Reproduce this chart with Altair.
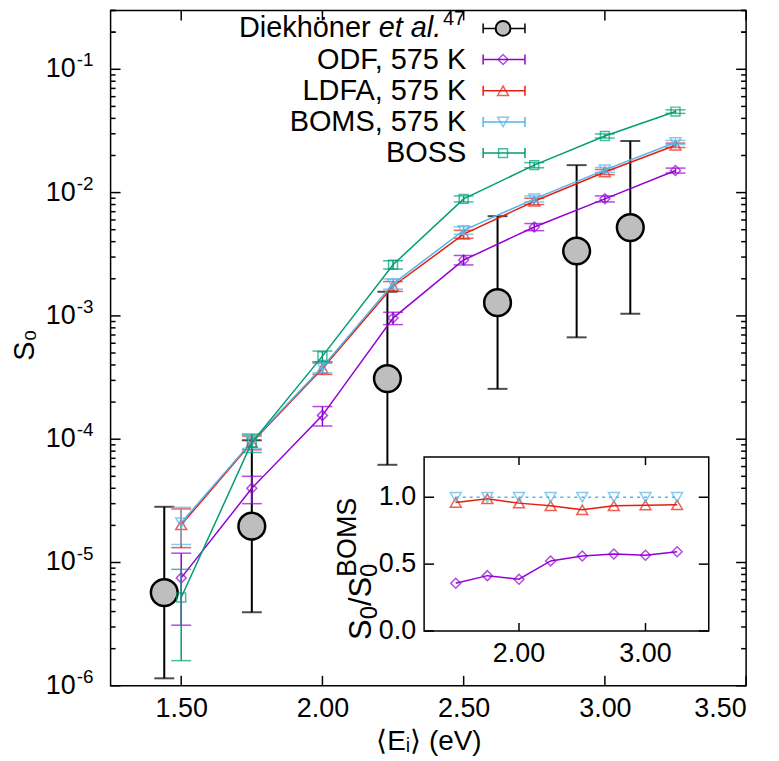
import altair as alt
import pandas as pd

# ---------------- data ----------------
E_model = [1.50, 1.75, 2.00, 2.25, 2.50, 2.75, 3.00, 3.25]
odf_s0 = [7.5e-6, 4.0e-5, 1.56e-4, 9.6e-4, 2.84e-3, 5.26e-3, 8.9e-3, 1.51e-2]
odf_err = [4.4e-6, 1.0e-5, 2.8e-5, 1.1e-4, 2.5e-4, 3.5e-4, 5.0e-4, 7.0e-4]
ldfa_s0 = [2.02e-5, 9.4e-5, 3.75e-4, 1.74e-3, 4.6e-3, 8.5e-3, 1.47e-2, 2.42e-2]
ldfa_err = [7.0e-6, 1.2e-5, 4.0e-5, 1.6e-4, 3.4e-4, 5.0e-4, 7.0e-4, 1.0e-3]
boms_s0 = [2.1e-5, 9.6e-5, 3.85e-4, 1.82e-3, 4.94e-3, 8.9e-3, 1.53e-2, 2.55e-2]
boms_err = [7.0e-6, 1.2e-5, 4.0e-5, 1.7e-4, 3.5e-4, 5.0e-4, 7.0e-4, 1.0e-3]
boss_s0 = [5.2e-6, 9.4e-5, 4.72e-4, 2.6e-3, 8.9e-3, 1.67e-2, 2.88e-2, 4.54e-2]
boss_err = [3.6e-6, 1.6e-5, 4.7e-5, 2.0e-4, 5.0e-4, 8.0e-4, 1.1e-3, 1.5e-3]

E_exp = [1.44, 1.75, 2.23, 2.62, 2.90, 3.09]
exp_s0 = [5.7e-6, 1.97e-5, 3.1e-4, 1.28e-3, 3.36e-3, 5.2e-3]
exp_lo = [1.15e-6, 3.95e-6, 6.2e-5, 2.56e-4, 6.7e-4, 1.04e-3]
exp_hi = [2.83e-5, 9.8e-5, 1.57e-3, 6.44e-3, 1.67e-2, 2.62e-2]

ratio_odf = [0.357, 0.414, 0.387, 0.524, 0.561, 0.576, 0.566, 0.593]
ratio_ldfa = [0.961, 0.988, 0.956, 0.936, 0.906, 0.936, 0.941, 0.943]
ratio_boms = [1.0, 1.0, 1.0, 1.0, 1.0, 1.0, 1.0, 1.0]

x_ticks = [1.50, 2.00, 2.50, 3.00, 3.50]
y_major = [1e-6, 1e-5, 1e-4, 1e-3, 1e-2, 1e-1]
y_exponents = ["-6", "-5", "-4", "-3", "-2", "-1"]
y_minor = [m * d for d in y_major for m in range(2, 10)] + [0.2, 0.3]
inset_x_ticks = [2.0, 3.0]
inset_x_labels = ["2.00", "3.00"]
inset_y_ticks = [0.0, 0.5, 1.0]
inset_y_labels = ["0.0", "0.5", "1.0"]

legend_names = ["ODF, 575 K", "LDFA, 575 K", "BOMS, 575 K", "BOSS"]

# ---------------- styling ----------------
FONT = "Liberation Sans"
W, H = 638, 678
C_ODF, C_LDFA, C_BOMS, C_BOSS = "#9400d3", "#e51e10", "#56b4e9", "#009e73"

xs = alt.Scale(domain=[1.25, 3.5], nice=False, zero=False)
ys = alt.Scale(type="log", domain=[1e-6, 0.3], nice=False)
x_axis = alt.Axis(values=x_ticks, format=".2f", ticks=False, domain=False, grid=False,
                  labelFontSize=27, labelFont=FONT, labelColor="black", labelPadding=10,
                  title="⟨Eᵢ⟩ (eV)", titleFont=FONT, titleFontSize=28,
                  titleFontWeight="normal", titleColor="black", titlePadding=6)


def X(field="E"):
    return alt.X(f"{field}:Q", scale=xs, axis=x_axis)


def Y(field):
    return alt.Y(f"{field}:Q", scale=ys, axis=None)


def model_layers(vals, errs, color, shape, size):
    df = pd.DataFrame({"E": E_model, "S": vals,
                       "lo": [v - e for v, e in zip(vals, errs)],
                       "hi": [v + e for v, e in zip(vals, errs)]})
    b = alt.Chart(df)
    return [
        b.mark_line(color=color, strokeWidth=1.5).encode(x=X(), y=Y("S")),
        b.mark_rule(color=color, strokeWidth=1.5).encode(x=X(), y=Y("lo"), y2="hi:Q"),
        b.mark_tick(color=color, orient="horizontal", size=20, thickness=1.5).encode(x=X(), y=Y("lo")),
        b.mark_tick(color=color, orient="horizontal", size=20, thickness=1.5).encode(x=X(), y=Y("hi")),
        b.mark_point(shape=shape, size=size, filled=False, color=color, strokeWidth=1.5).encode(x=X(), y=Y("S")),
    ]


exp_df = pd.DataFrame({"E": E_exp, "S": exp_s0, "lo": exp_lo, "hi": exp_hi})
eb = alt.Chart(exp_df)
exp_layers = [
    eb.mark_rule(color="black", strokeWidth=2).encode(x=X(), y=Y("lo"), y2="hi:Q"),
    eb.mark_tick(color="black", orient="horizontal", size=20, thickness=2).encode(x=X(), y=Y("lo")),
    eb.mark_tick(color="black", orient="horizontal", size=20, thickness=2).encode(x=X(), y=Y("hi")),
    eb.mark_point(shape="circle", size=720, filled=True, fill="#bebebe", fillOpacity=1,
                  stroke="black", strokeWidth=2.5, opacity=1).encode(x=X(), y=Y("S")),
]

# ---------------- inward ticks on all four sides ----------------
xt = alt.Chart(pd.DataFrame({"v": x_ticks}))
ymaj = alt.Chart(pd.DataFrame({"v": y_major}))
ymin = alt.Chart(pd.DataFrame({"v": y_minor}))
tick_layers = [
    xt.mark_rule(color="black", strokeWidth=1.5).encode(x=X("v"), y=alt.value(H), y2=alt.value(H - 10)),
    xt.mark_rule(color="black", strokeWidth=1.5).encode(x=X("v"), y=alt.value(0), y2=alt.value(10)),
    ymaj.mark_rule(color="black", strokeWidth=1.5).encode(y=Y("v"), x=alt.value(0), x2=alt.value(10)),
    ymaj.mark_rule(color="black", strokeWidth=1.5).encode(y=Y("v"), x=alt.value(W), x2=alt.value(W - 10)),
    ymin.mark_rule(color="black", strokeWidth=1.5).encode(y=Y("v"), x=alt.value(0), x2=alt.value(5)),
    ymin.mark_rule(color="black", strokeWidth=1.5).encode(y=Y("v"), x=alt.value(W), x2=alt.value(W - 5)),
]

# y tick labels 10^n
ylab_df = pd.DataFrame({"v": y_major, "ex": y_exponents})
yl = alt.Chart(ylab_df)
ylabel_layers = [
    yl.mark_text(align="right", baseline="middle", font=FONT, fontSize=27, color="black").encode(
        y=Y("v"), x=alt.value(-35), text=alt.value("10")),
    yl.mark_text(align="left", baseline="middle", font=FONT, fontSize=19, color="black", dy=-9).encode(
        y=Y("v"), x=alt.value(-34), text="ex:N"),
]

one = pd.DataFrame({"k": [0]})
ob = alt.Chart(one)
ytitle = ob.mark_text(angle=270, align="center", baseline="middle", font=FONT, fontSize=29,
                      color="black").encode(x=alt.value(-86), y=alt.value(336), text=alt.value("S₀"))

# ---------------- legend ----------------
LX_TEXT, LK0, LK1, LKM = 357, 374, 416, 394
LY0, LDY = 18, 31.3
LFS = 29


def legend_row(i, color, shape, size, filled, fill=None, sw=1.5):
    y = LY0 + i * LDY
    layers = [
        ob.mark_rule(color=color, strokeWidth=1.5).encode(x=alt.value(LK0), x2=alt.value(LK1), y=alt.value(y)),
        ob.mark_rule(color=color, strokeWidth=1.5).encode(x=alt.value(LK0), y=alt.value(y - 5), y2=alt.value(y + 5)),
        ob.mark_rule(color=color, strokeWidth=1.5).encode(x=alt.value(LK1), y=alt.value(y - 5), y2=alt.value(y + 5)),
    ]
    if filled:
        layers.append(ob.mark_point(shape=shape, size=size, filled=True, fill=fill, fillOpacity=1,
                                    stroke=color, strokeWidth=sw, opacity=1).encode(
            x=alt.value(LKM), y=alt.value(y)))
    else:
        layers.append(ob.mark_point(shape=shape, size=size, filled=False, color=color,
                                    strokeWidth=sw).encode(x=alt.value(LKM), y=alt.value(y)))
    return layers


legend_layers = [
    ob.mark_text(align="right", baseline="middle", font=FONT, fontSize=20, color="black").encode(
        x=alt.value(LX_TEXT - 1), y=alt.value(LY0 - 9), text=alt.value("47")),
    ob.mark_text(align="right", baseline="middle", font=FONT, fontSize=LFS, fontStyle="italic",
                 color="black").encode(x=alt.value(LX_TEXT - 25), y=alt.value(LY0), text=alt.value("et al.")),
    ob.mark_text(align="right", baseline="middle", font=FONT, fontSize=LFS, color="black").encode(
        x=alt.value(LX_TEXT - 96), y=alt.value(LY0), text=alt.value("Diekhöner")),
]
legend_layers += legend_row(0, "black", "circle", 220, True, "#bebebe", 2)
styles = [(C_ODF, "diamond", 100), (C_LDFA, "triangle-up", 120), (C_BOMS, "triangle-down", 120),
          (C_BOSS, "square", 80)]
for k, (name, (c, s, z)) in enumerate(zip(legend_names, styles)):
    legend_layers.append(ob.mark_text(align="right", baseline="middle", font=FONT, fontSize=LFS,
                                      color="black").encode(x=alt.value(LX_TEXT), y=alt.value(LY0 + (k + 1) * LDY),
                                                            text=alt.value(name)))
    legend_layers += legend_row(k + 1, c, s, z, False)

main_layers = (tick_layers + exp_layers
               + model_layers(odf_s0, odf_err, C_ODF, "diamond", 100)
               + model_layers(ldfa_s0, ldfa_err, C_LDFA, "triangle-up", 120)
               + model_layers(boms_s0, boms_err, C_BOMS, "triangle-down", 120)
               + model_layers(boss_s0, boss_err, C_BOSS, "square", 80)
               + ylabel_layers + [ytitle] + legend_layers)
main = alt.layer(*main_layers)

# ---------------- inset ----------------
IX0, IX1 = 314.75, 600.5
IY0, IY1 = 623.0, 448.4  # bottom, top
ixs = alt.Scale(domain=[1.25, 3.5], range=[IX0, IX1], nice=False, zero=False)
iys = alt.Scale(domain=[0, 1.3], range=[IY0, IY1], nice=False, zero=False)


def IX(field="E"):
    return alt.X(f"{field}:Q", scale=ixs, axis=None)


def IY(field):
    return alt.Y(f"{field}:Q", scale=iys, axis=None)


inset_df = pd.DataFrame({"E": E_model, "odf": ratio_odf, "ldfa": ratio_ldfa, "boms": ratio_boms})
ib = alt.Chart(inset_df)
frame = ob.mark_rect(fill="white", stroke="black", strokeWidth=1.5).encode(
    x=alt.value(IX0), x2=alt.value(IX1), y=alt.value(IY1), y2=alt.value(IY0))
ixt = alt.Chart(pd.DataFrame({"v": inset_x_ticks, "lab": inset_x_labels}))
iyt = alt.Chart(pd.DataFrame({"v": inset_y_ticks, "lab": inset_y_labels}))

# inset y title  S0/S0^BOMS built from pieces (rotated, reading upward)
TB = 261  # baseline x of the main glyphs
MF, SF, PF = 31, 24, 27
pieces = [("S", MF, TB, 632), ("0", SF, TB + 6, 611.3), ("/", MF, TB, 598), ("S", MF, TB, 589.4),
          ("0", SF, TB + 6, 568.7), ("BOMS", PF, TB - 15, 568.7)]
ititle_layers = [
    ob.mark_text(angle=270, align="left", baseline="alphabetic", font=FONT, fontSize=fs, color="black").encode(
        x=alt.value(px), y=alt.value(py), text=alt.value(t))
    for (t, fs, px, py) in pieces
]

inset_layers = [
    frame,
    ixt.mark_rule(color="black", strokeWidth=1.5).encode(x=IX("v"), y=alt.value(IY0), y2=alt.value(IY0 - 8)),
    ixt.mark_rule(color="black", strokeWidth=1.5).encode(x=IX("v"), y=alt.value(IY1), y2=alt.value(IY1 + 8)),
    iyt.mark_rule(color="black", strokeWidth=1.5).encode(y=IY("v"), x=alt.value(IX0), x2=alt.value(IX0 + 10)),
    iyt.mark_rule(color="black", strokeWidth=1.5).encode(y=IY("v"), x=alt.value(IX1), x2=alt.value(IX1 - 10)),
    ixt.mark_text(align="center", baseline="top", font=FONT, fontSize=27, color="black").encode(
        x=IX("v"), y=alt.value(IY0 + 10), text="lab:N"),
    iyt.mark_text(align="right", baseline="middle", font=FONT, fontSize=27, color="black").encode(
        y=IY("v"), x=alt.value(IX0 - 8), text="lab:N"),
] + ititle_layers + [
    ib.mark_line(color=C_ODF, strokeWidth=1.5).encode(x=IX(), y=IY("odf")),
    ib.mark_point(shape="diamond", size=100, filled=False, color=C_ODF, strokeWidth=1.5).encode(x=IX(), y=IY("odf")),
    ib.mark_line(color=C_LDFA, strokeWidth=1.5).encode(x=IX(), y=IY("ldfa")),
    ib.mark_point(shape="triangle-up", size=120, filled=False, color=C_LDFA, strokeWidth=1.5).encode(x=IX(), y=IY("ldfa")),
    ib.mark_line(color=C_BOMS, strokeWidth=1.5, strokeDash=[3, 4]).encode(x=IX(), y=IY("boms")),
    ib.mark_point(shape="triangle-down", size=120, filled=False, color=C_BOMS, strokeWidth=1.5).encode(x=IX(), y=IY("boms")),
]
inset = alt.layer(*inset_layers)

chart = alt.layer(main, inset).resolve_scale(x="independent", y="independent").properties(
    width=W, height=H,
    autosize=alt.AutoSizeParams(type="none"),
    padding={"left": 103, "top": 1, "right": 25, "bottom": 70},
).configure_view(stroke="black", strokeWidth=1.5)

chart.save("out.html", embed_options={"renderer": "svg", "actions": False})
